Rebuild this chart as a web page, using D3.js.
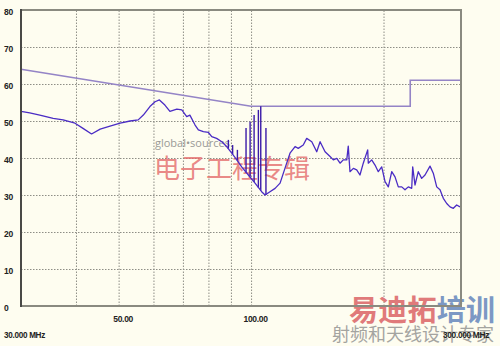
<!DOCTYPE html>
<html>
<head>
<meta charset="utf-8">
<script src="https://cdn.jsdelivr.net/npm/d3@7"></script>
<style>
    html, body { margin: 0; padding: 0; background: #fefdf0; }
    #chart { width: 500px; height: 346px; }
    .lbl { font-family: "Liberation Sans", Arial, sans-serif; font-weight: bold; font-size: 8.5px; fill: #222; letter-spacing: -0.3px; }
</style>
</head>
<body>
<div id="chart"></div>
<script>

// measured trace (MHz, dBuV/m)
const traceFreq = [30, 31.4, 33.1, 35.5, 37.4, 39.8, 41.5, 43.4, 45.4, 47.8, 50.4, 53.1, 55.4, 56.9, 58.9, 60.5, 61.9, 63.7,
    65.4, 67.8, 69.6, 71.4, 72.6, 74.6, 75.9, 77.9, 80.0, 81.4, 83.5, 85.8, 88.0, 90.4, 92.8, 95.2, 98.6, 102.1, 105.7, 107.6,
    110.4, 113.4, 116.4, 119.4, 122.6, 125.9, 128.0, 131.4, 133.8, 137.4, 141.0, 143.5, 147.3, 151.2, 153.8, 156.6, 159.3,
    162.0, 165.0, 166.3, 167.8, 170.8, 173.8, 176.8, 179.9, 184.1, 184.7, 188.0, 191.3, 194.6, 198.1, 201.6, 205.1, 208.8,
    212.4, 216.1, 220.0, 223.8, 227.7, 231.8, 233.0, 235.8, 239.9, 244.2, 248.5, 255.1, 259.5, 264.2, 268.8, 273.5, 278.4,
    283.2, 288.2, 293.3, 298.4];
const traceDb = [52.6, 52.2, 51.6, 50.7, 50.3, 49.4, 48.0, 46.5, 47.8, 48.6, 49.4, 50.0, 50.3, 51.6, 53.9, 55.2, 55.7, 54.3,
    52.6, 53.2, 53.0, 51.2, 51.6, 48.9, 47.6, 47.1, 46.9, 45.8, 45.3, 44.4, 43.1, 41.3, 39.5, 37.6, 35.4, 33.2, 30.9, 30.0,
    30.9, 31.8, 33.2, 37.2, 41.3, 43.1, 42.6, 43.5, 45.3, 44.4, 41.7, 44.4, 41.7, 40.4, 39.5, 39.9, 38.6,
    39.5, 39.5, 43.2, 36.3, 37.2, 36.8, 35.4, 38.6, 42.2, 38.6, 39.5, 38.1, 36.3, 37.6, 33.6, 32.2, 36.3,
    34.9, 32.2, 32.2, 31.4, 32.2, 31.8, 37.6, 32.7, 36.3, 34.5, 35.4, 37.8, 35.9, 32.2, 31.4, 29.1, 27.7,
    26.8, 26.4, 27.3, 26.8];

// narrow peaks around 100 MHz
const spikeFreq = [88.8, 90.8, 93.1, 97.4, 99.5, 101.6, 103.9, 105.2, 108.1];
const spikeBase = [42.5, 41.0, 39.3, 36.0, 35.0, 33.5, 32.0, 31.2, 30.0];
const spikeTop = [44.9, 43.5, 42.2, 48.1, 49.8, 51.6, 53.0, 54.0, 48.1];

// limit line
const limitFreq = [30, 100, 230, 230, 300];
const limitDb = [64, 54, 54, 61, 61];

// axes
const yTicks = [0, 10, 20, 30, 40, 50, 60, 70, 80];
const xGridTicks = [40, 50, 60, 70, 80, 90, 100, 200];
const xLabelTicks = [50, 100];
const startLabel = '30.000 MHz';
const stopLabel = '300.000 MHz';


function createSVG(containerId, width, height) {

    try {

        let svg = d3.select(containerId)
            .append('svg')
            .attr('width', width)
            .attr('height', height)
            .attr('viewBox', '0 0 ' + width + ' ' + height);
        return svg;

    } catch (error) {

        console.log('createSVG. Error: ' + error);
        return null;
    }
}

function drawGrid(svg, x, y) {

    try {

        svg.append('g')
            .attr('transform', 'translate(21,0)')
            .call(d3.axisLeft(y).tickValues(yTicks.slice(1, -1)).tickSize(-440).tickFormat(''))
            .call(g => g.select('.domain').remove())
            .selectAll('line')
            .attr('stroke', '#8e8e86')
            .attr('stroke-dasharray', '1.5,1.5');

        svg.append('g')
            .attr('transform', 'translate(0,306)')
            .call(d3.axisBottom(x).tickValues(xGridTicks).tickSize(-296).tickFormat(''))
            .call(g => g.select('.domain').remove())
            .selectAll('line')
            .attr('stroke', '#8e8e86')
            .attr('stroke-dasharray', '1.5,1.5');

    } catch (error) {

        console.log('drawGrid. Error: ' + error);
    }
}

function drawFrame(svg, x, y) {

    try {

        svg.append('rect')
            .attr('x', x(30))
            .attr('y', y(80))
            .attr('width', x(300) - x(30))
            .attr('height', y(0) - y(80))
            .attr('fill', 'none')
            .attr('stroke', '#8a8a80')
            .attr('stroke-width', 2);

        svg.append('line')
            .attr('x1', x(30)).attr('x2', x(30))
            .attr('y1', y(80) - 1).attr('y2', y(0) + 1)
            .attr('stroke', '#333')
            .attr('stroke-width', 1.5);

    } catch (error) {

        console.log('drawFrame. Error: ' + error);
    }
}

function drawLabels(svg, x, y) {

    try {

        let ya = svg.append('g')
            .attr('transform', 'translate(21,0)')
            .call(d3.axisLeft(y).tickValues(yTicks).tickSize(0).tickFormat(d3.format('d')));
        ya.select('.domain').remove();
        ya.selectAll('text')
            .attr('class', 'lbl')
            .attr('text-anchor', 'start')
            .attr('x', -17)
            .attr('dy', '0.55em')
            .attr('font-family', null).attr('font-size', null);

        let xa = svg.append('g')
            .attr('transform', 'translate(0,306)')
            .call(d3.axisBottom(x).tickValues(xLabelTicks).tickSize(0).tickFormat(d3.format('.2f')));
        xa.select('.domain').remove();
        xa.selectAll('text')
            .attr('class', 'lbl')
            .attr('dx', 4)
            .attr('y', 10)
            .attr('font-family', null).attr('font-size', null);

        svg.append('text').attr('class', 'lbl')
            .attr('x', 4).attr('y', 338)
            .attr('textLength', 41).attr('lengthAdjust', 'spacingAndGlyphs')
            .text(startLabel);
        svg.append('text').attr('class', 'lbl')
            .attr('x', 443).attr('y', 338)
            .attr('textLength', 46).attr('lengthAdjust', 'spacingAndGlyphs')
            .text(stopLabel);

    } catch (error) {

        console.log('drawLabels. Error: ' + error);
    }
}

function drawWatermarks(svg) {

    try {

        svg.append('text')
            .attr('x', 155).attr('y', 147)
            .attr('font-family', 'Open Sans, sans-serif').attr('font-size', 11)
            .attr('fill', '#9a9a96')
            .text('global\u2022sources');

        svg.append('text')
            .attr('x', 154).attr('y', 178)
            .attr('font-family', 'Noto Sans CJK SC').attr('font-size', 26)
            .attr('fill', '#e46a6a').attr('fill-opacity', 0.8)
            .text('电子工程专辑');

        let t = svg.append('text')
            .attr('x', 349).attr('y', 321)
            .attr('font-family', 'Noto Sans CJK SC').attr('font-size', 29).attr('font-weight', 'bold')
            .attr('textLength', 146).attr('lengthAdjust', 'spacing');
        t.append('tspan').attr('fill', '#e07a7a').text('易迪拓');
        t.append('tspan').attr('fill', '#7c98c4').text('培训');

        svg.append('text')
            .attr('x', 332).attr('y', 341)
            .attr('font-family', 'Noto Sans CJK SC').attr('font-size', 18)
            .attr('fill', '#a4a4a0')
            .text('射频和天线设计专家');

    } catch (error) {

        console.log('drawWatermarks. Error: ' + error);
    }
}

function drawSeries(svg, x, y) {

    try {

        let line = d3.line().x(d => x(d[0])).y(d => y(d[1]));

        svg.append('path')
            .datum(limitFreq.map((f, i) => [f, limitDb[i]]))
            .attr('d', line)
            .attr('fill', 'none')
            .attr('stroke', '#9484c6')
            .attr('stroke-width', 1.6);

        svg.selectAll('line.spike')
            .data(spikeFreq).enter()
            .append('line')
            .attr('class', 'spike')
            .attr('x1', d => x(d)).attr('x2', d => x(d))
            .attr('y1', (d, i) => y(spikeBase[i]))
            .attr('y2', (d, i) => y(spikeTop[i]))
            .attr('stroke', '#3a1aa8')
            .attr('stroke-width', 1.4);

        svg.append('path')
            .datum(traceFreq.map((f, i) => [f, traceDb[i]]))
            .attr('d', line)
            .attr('fill', 'none')
            .attr('stroke', '#4a2cc4')
            .attr('stroke-width', 1.3)
            .attr('stroke-linejoin', 'round');

    } catch (error) {

        console.log('drawSeries. Error: ' + error);
    }
}

let svg = createSVG('#chart', 500, 346);
let x = d3.scaleLog().domain([30, 300]).range([21, 461]);
let y = d3.scaleLinear().domain([0, 80]).range([306, 10]);

drawGrid(svg, x, y);
drawWatermarks(svg);
drawSeries(svg, x, y);
drawFrame(svg, x, y);
drawLabels(svg, x, y);

</script>
</body>
</html>
